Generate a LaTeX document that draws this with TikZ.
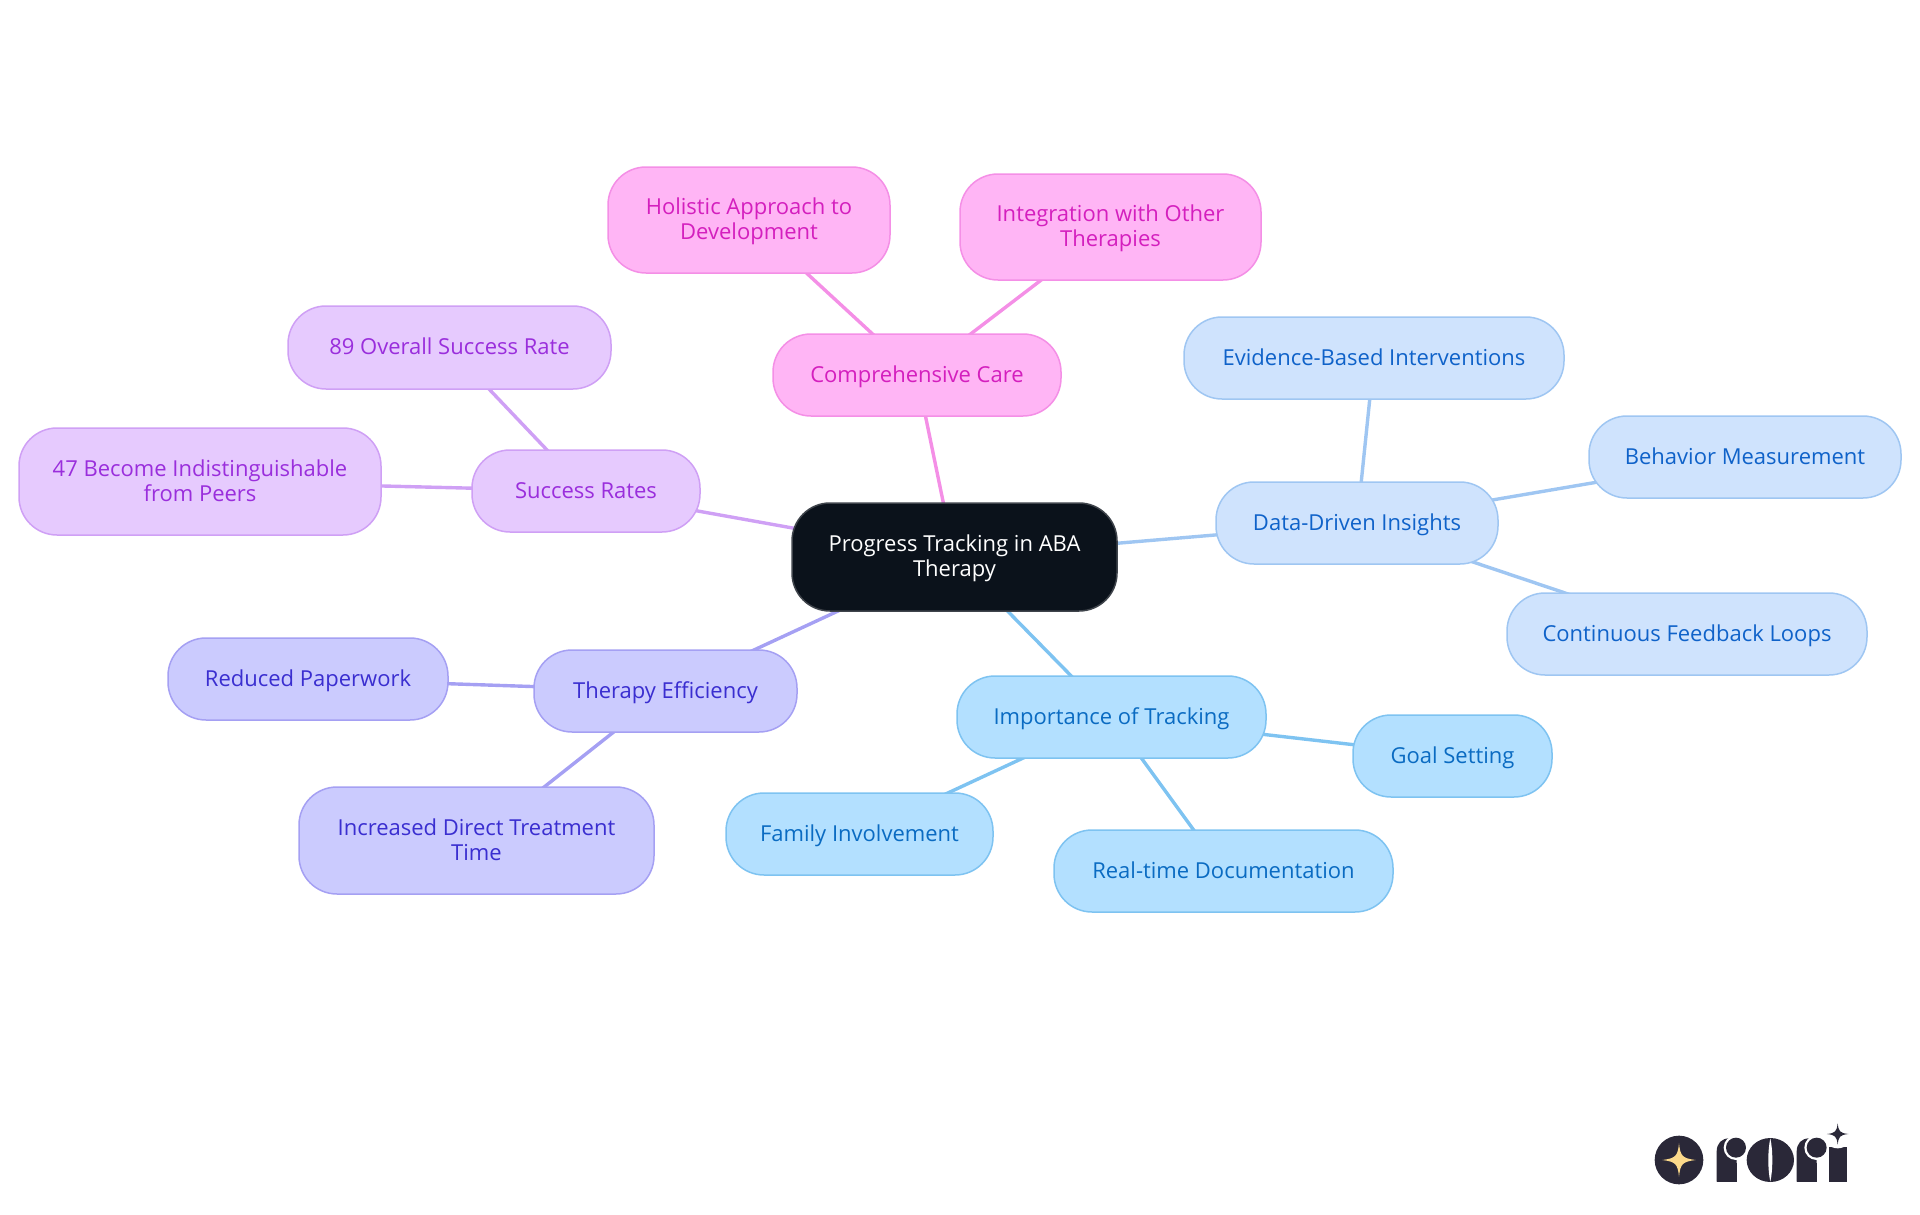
\documentclass[tikz,border=0pt]{standalone}
\usepackage{fontspec}
\setmainfont{Open Sans}
\usetikzlibrary{backgrounds}
\definecolor{rootfill}{HTML}{0B121B}\definecolor{rootline}{HTML}{3F444B}
\definecolor{afill}{HTML}{B3E0FF}\definecolor{aline}{HTML}{7EC3F1}\definecolor{atext}{HTML}{0A6BC2}
\definecolor{bfill}{HTML}{CFE3FD}\definecolor{bline}{HTML}{9FC6F2}\definecolor{btext}{HTML}{0F62C9}
\definecolor{cfill}{HTML}{FFB5F5}\definecolor{cline}{HTML}{F48FE6}\definecolor{ctext}{HTML}{D41FBE}
\definecolor{dfill}{HTML}{E6CAFE}\definecolor{dline}{HTML}{CFA0F5}\definecolor{dtext}{HTML}{9A2EDC}
\definecolor{efill}{HTML}{CBCBFE}\definecolor{eline}{HTML}{A5A0F3}\definecolor{etext}{HTML}{3A2ED0}
\definecolor{logoink}{HTML}{2A2838}\definecolor{logostar}{HTML}{FBD98A}
\tikzset{
  mm/.style={rounded corners=38pt,line width=1.5pt,inner sep=0pt,outer sep=0pt,align=center,font=\fontsize{22}{25}\selectfont},
  rootnode/.style={mm,draw=rootline,fill=rootfill,text=white},
  anode/.style={mm,draw=aline,fill=afill,text=atext},
  bnode/.style={mm,draw=bline,fill=bfill,text=btext},
  cnode/.style={mm,draw=cline,fill=cfill,text=ctext},
  dnode/.style={mm,draw=dline,fill=dfill,text=dtext},
  enode/.style={mm,draw=eline,fill=efill,text=etext},
  edge/.style={line width=3.4pt},
}
\newcommand{\mmstrut}{\rule[-5.5pt]{0pt}{25pt}}
\newcommand{\mmnode}[7]{\node[#2,minimum width={(#5-#3)*1pt},minimum height={(#6-#4)*1pt}] (#1) at ({(#3+#5)/2},{(#4+#6)/2}) {\mmstrut #7\mmstrut};}
\newcommand{\mmedge}[3]{\draw[edge,draw=#1] (#2.center) -- (#3.center);}
\begin{document}
\begin{tikzpicture}[x=1pt,y=-1pt]
\useasboundingbox (0,0) rectangle (1920,1215);
\mmnode{root}{rootnode}{792}{503}{1117}{611}{Progress Tracking in ABA\\Therapy}
\mmnode{imp}{anode}{957}{676}{1266}{758}{Importance of Tracking}
\mmnode{goal}{anode}{1353}{715}{1552}{797}{Goal Setting}
\mmnode{real}{anode}{1054}{830}{1393}{912}{Real-time Documentation}
\mmnode{fam}{anode}{726}{793}{993}{875}{Family Involvement}
\mmnode{dd}{bnode}{1216}{482}{1498}{564}{Data-Driven Insights}
\mmnode{evi}{bnode}{1184}{317}{1564}{399}{Evidence-Based Interventions}
\mmnode{beh}{bnode}{1589}{416}{1901}{498}{Behavior Measurement}
\mmnode{con}{bnode}{1507}{593}{1867}{675}{Continuous Feedback Loops}
\mmnode{comp}{cnode}{773}{334}{1061}{416}{Comprehensive Care}
\mmnode{hol}{cnode}{608}{167}{890}{273}{Holistic Approach to\\Development}
\mmnode{int}{cnode}{960}{174}{1261}{280}{Integration with Other\\Therapies}
\mmnode{suc}{dnode}{472}{450}{700}{532}{Success Rates}
\mmnode{ovr}{dnode}{288}{306}{611}{389}{89 Overall Success Rate}
\mmnode{ind}{dnode}{19}{428}{381}{535}{47 Become Indistinguishable\\from Peers}
\mmnode{eff}{enode}{534}{650}{797}{732}{Therapy Efficiency}
\mmnode{red}{enode}{168}{638}{448}{720}{Reduced Paperwork}
\mmnode{inc}{enode}{299}{787}{654}{894}{Increased Direct Treatment\\Time}
\begin{pgfonlayer}{background}
\mmedge{aline}{root}{imp}\mmedge{aline}{imp}{goal}\mmedge{aline}{imp}{real}\mmedge{aline}{imp}{fam}
\mmedge{bline}{root}{dd}\mmedge{bline}{dd}{evi}\mmedge{bline}{dd}{beh}\mmedge{bline}{dd}{con}
\mmedge{cline}{root}{comp}\mmedge{cline}{comp}{hol}\mmedge{cline}{comp}{int}
\mmedge{dline}{root}{suc}\mmedge{dline}{suc}{ovr}\mmedge{dline}{suc}{ind}
\mmedge{eline}{root}{eff}\mmedge{eline}{eff}{red}\mmedge{eline}{eff}{inc}
\end{pgfonlayer}
% logo, in the coordinates of a 3x crop
\begin{scope}[shift={(1620,1100)},x=0.3333pt,y=-0.3333pt]
\fill[logoink] (177,180) circle[radius=73];
\fill[logostar] (177,130) .. controls (181,168) and (187,175) .. (227,180) .. controls (187,185) and (181,192) .. (177,230) .. controls (173,192) and (167,185) .. (127,180) .. controls (167,175) and (173,168) .. (177,130) -- cycle;
% r
\fill[logoink] (290,245) -- (290,155) .. controls (290,130) and (305,115) .. (328,115) -- (350,135) -- (350,245) -- cycle;
\fill[white] (348,143) circle[radius=37];
\fill[logoink] (348,143) circle[radius=30];
\fill[logoink] (350,245) rectangle (290,190);
% o
\fill[logoink] (451,180) ellipse[x radius=71,y radius=66];
\fill[white] (451,115) .. controls (443,150) and (443,210) .. (451,245) .. controls (459,210) and (459,150) .. (451,115) -- cycle;
% r
\fill[logoink] (530,245) -- (530,155) .. controls (530,130) and (545,115) .. (568,115) -- (590,135) -- (590,245) -- cycle;
\fill[white] (590,143) circle[radius=37];
\fill[logoink] (590,143) circle[radius=30];
\fill[logoink] (590,245) rectangle (530,190);
% i
\fill[logoink] (627,245) -- (627,140) -- (680,140) -- (680,245) -- cycle;
\fill[white] (653,102) circle[radius=43];
\fill[logoink] (653,70) .. controls (656,95) and (660,99) .. (685,102) .. controls (660,105) and (656,109) .. (653,134) .. controls (650,109) and (646,105) .. (621,102) .. controls (646,99) and (650,95) .. (653,70) -- cycle;
\end{scope}
\end{tikzpicture}
\end{document}
